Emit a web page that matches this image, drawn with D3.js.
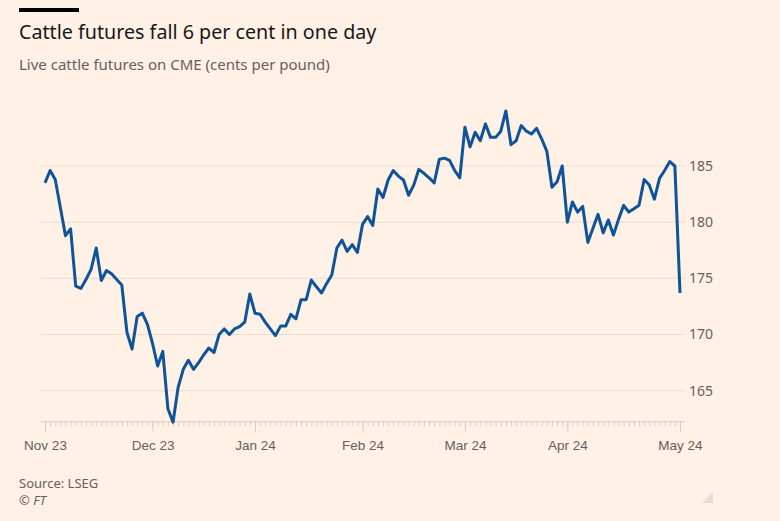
<!DOCTYPE html>
<html>
<head>
<meta charset="utf-8">
<script src="https://cdn.jsdelivr.net/npm/d3@7"></script>
<style>
  body { margin: 0; background: #fff1e5; }
  svg { display: block; font-family: "Noto Sans", sans-serif; }
  .grid line { stroke: #e9ddd2; }
  .axis path, .axis line { stroke: #d9cdc2; }
  .axis text, .ylab { fill: #66605c; font-size: 13.5px; }
</style>
</head>
<body>
<svg width="780" height="521"></svg>
<script>
(function (d3) {
  'use strict';

  // live cattle futures, one close per CME trading day, 1 Nov 2023 - 1 May 2024
  const prices = [
    183.5, 184.6, 183.8, 181.3, 178.8, 179.4, 174.3, 174.1, 174.9, 175.8,
    177.7, 174.8, 175.7, 175.4, 174.9, 174.4, 170.2, 168.7, 171.6, 171.9,
    170.9, 169.2, 167.2, 168.5, 163.4, 162.2, 165.3, 166.9, 167.7, 166.9,
    167.5, 168.2, 168.8, 168.4, 170.0, 170.5, 170.0, 170.5, 170.7, 171.1,
    173.6, 171.9, 171.8, 171.1, 170.5, 169.9, 170.75, 170.75, 171.8, 171.4,
    173.1, 173.1, 174.85, 174.25, 173.7, 174.55, 175.3, 177.7, 178.4, 177.4,
    178.0, 177.3, 179.8, 180.5, 179.7, 182.95, 182.2, 183.75, 184.6, 184.1,
    183.75, 182.4, 183.3, 184.7, 184.35, 183.95, 183.5, 185.6, 185.7, 185.5,
    184.6, 183.95, 188.45, 186.7, 188.0, 187.25, 188.75, 187.55, 187.55, 188.1,
    189.9, 186.9, 187.25, 188.6, 188.1, 187.85, 188.35, 187.4, 186.3, 183.1,
    183.6, 185.0, 180.0, 181.8, 180.9, 181.4, 178.2, 179.45, 180.7, 179.05,
    180.2, 178.85, 180.25, 181.5, 180.9, 181.2, 181.5, 183.8, 183.3, 182.05,
    183.9, 184.6, 185.4, 185.0, 173.7
  ];

  const holidays = ['2023-11-23', '2023-12-25', '2024-01-01', '2024-01-15', '2024-02-19', '2024-03-29'];
  const monthTicks = ['2023-11-01', '2023-12-01', '2024-01-02', '2024-02-01', '2024-03-01', '2024-04-01', '2024-05-01'];
  const monthLabels = ['Nov 23', 'Dec 23', 'Jan 24', 'Feb 24', 'Mar 24', 'Apr 24', 'May 24'];
  const yTicks = [165, 170, 175, 180, 185];

  const fmt = d3.utcFormat('%Y-%m-%d');
  const days = d3.utcDay.range(new Date('2023-11-01'), new Date('2024-05-02'))
    .filter(d => d.getUTCDay() !== 0 && d.getUTCDay() !== 6)
    .map(fmt)
    .filter(d => !holidays.includes(d));

  const data = days.map((d, i) => ({ day: d, value: prices[i] }));

  const svg = d3.select('svg');

  // header
  svg.append('rect').attr('x', 19).attr('y', 8).attr('width', 60).attr('height', 4).attr('fill', '#000');
  svg.append('text').attr('x', 19).attr('y', 39)
    .attr('font-size', 19.7).attr('fill', '#1a1817')
    .text('Cattle futures fall 6 per cent in one day');
  svg.append('text').attr('x', 19).attr('y', 70)
    .attr('font-size', 15).attr('fill', '#66605c')
    .text('Live cattle futures on CME (cents per pound)');

  const x = d3.scalePoint().domain(days).range([45, 680]);
  const y = d3.scaleLinear().domain([165, 185]).range([390.7, 166]);

  // horizontal grid + right-hand labels
  const grid = svg.append('g').attr('class', 'grid');
  grid.selectAll('line')
    .data(yTicks)
    .enter().append('line')
      .attr('x1', 41).attr('x2', 685)
      .attr('y1', d => y(d)).attr('y2', d => y(d));
  svg.append('g').selectAll('text')
    .data(yTicks)
    .enter().append('text')
      .attr('class', 'ylab')
      .attr('x', 689)
      .attr('y', d => y(d))
      .attr('dy', '0.35em')
      .style('font-size', '14px')
      .text(d => d);

  // x axis: a small tick per trading day, longer tick at each month
  const axisY = 421.3;
  const dayAxis = svg.append('g')
    .attr('class', 'axis')
    .attr('transform', `translate(0,${axisY})`)
    .call(d3.axisBottom(x).tickValues(days).tickSize(5).tickSizeOuter(0).tickFormat(''));
  dayAxis.select('.domain').attr('d', 'M41,0.5H685');

  const monthAxis = svg.append('g')
    .attr('class', 'axis')
    .attr('transform', `translate(0,${axisY})`)
    .call(d3.axisBottom(x).tickValues(monthTicks).tickSize(11).tickPadding(8)
      .tickFormat((d, i) => monthLabels[i]));
  monthAxis.select('.domain').remove();

  // price line
  const line = d3.line()
    .x(d => x(d.day))
    .y(d => y(d.value));

  svg.append('path')
    .datum(data)
    .attr('fill', 'none')
    .attr('stroke', '#0f5499')
    .attr('stroke-width', 3)
    .attr('stroke-linejoin', 'round')
    .attr('d', line);

  // footer
  svg.append('text').attr('x', 19).attr('y', 488)
    .attr('font-size', 13).attr('fill', '#66605c')
    .text('Source: LSEG');
  svg.append('text').attr('x', 19).attr('y', 505)
    .attr('font-size', 13).attr('font-style', 'italic').attr('fill', '#66605c')
    .text('© FT');

  svg.append('path')
    .attr('d', 'M713,492L713,503L702,503Z')
    .attr('fill', '#e6dcd3');

}(d3));
</script>
</body>
</html>
